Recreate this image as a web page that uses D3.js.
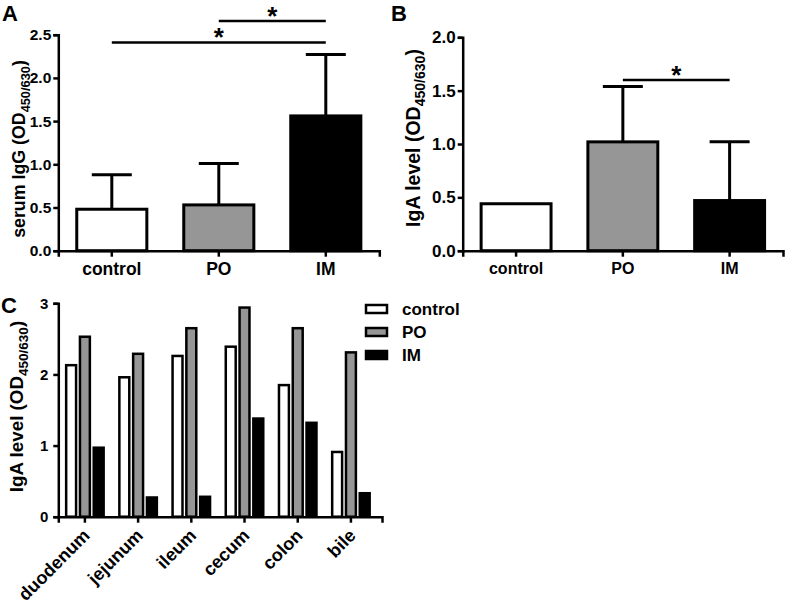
<!DOCTYPE html>
<html lang="en">
<head>
<meta charset="UTF-8">
<title>Serum IgG and IgA levels</title>
<script src="https://d3js.org/d3.v7.min.js"></script>
<style>
  body { margin: 0; background: #fff; }
  svg { display: block; }
</style>
</head>
<body>
<div id="chart"></div>
<script>
// data
const groups = ["control", "PO", "IM"];
const groupFill = ["#ffffff", "#969696", "#000000"];

// panel A: serum IgG, mean and SD
const igGMean = [0.48, 0.53, 1.56];
const igGSD = [0.40, 0.48, 0.71];
const igGTicks = [0, 0.5, 1.0, 1.5, 2.0, 2.5];
const igGSig = [["PO", "IM", 2.66], ["control", "IM", 2.41]];

// panel B: IgA, mean and SD
const igAMean = [0.44, 1.02, 0.47];
const igASD = [0, 0.52, 0.55];
const igATicks = [0, 0.5, 1.0, 1.5, 2.0];
const igASig = [["PO", "IM", 1.60]];

// panel C: IgA per site
const sites = ["duodenum", "jejunum", "ileum", "cecum", "colon", "bile"];
const siteControl = [2.13, 1.96, 2.26, 2.39, 1.85, 0.91];
const sitePO = [2.53, 2.29, 2.65, 2.94, 2.65, 2.31];
const siteIM = [0.97, 0.27, 0.28, 1.38, 1.32, 0.33];
const siteTicks = [0, 1, 2, 3];

const FONT = "'Liberation Sans', Arial, Helvetica, sans-serif";

const svg = d3.select("#chart").append("svg")
    .attr("width", 787)
    .attr("height", 605)
    .attr("font-family", FONT)
    .attr("font-weight", "bold");

function styleAxis(g, fs) {
  g.attr("font-family", FONT).attr("font-size", fs).attr("font-weight", "bold");
  g.select(".domain").attr("stroke-width", 2.5);
  g.selectAll(".tick line").attr("stroke-width", 2.5);
  g.selectAll(".tick text").attr("fill", "#000");
}

function yTitle(x, y, fs, main) {
  const t = svg.append("text")
      .attr("transform", `translate(${x},${y}) rotate(-90)`)
      .attr("text-anchor", "middle")
      .attr("font-size", fs);
  t.append("tspan").text(main + " (OD");
  t.append("tspan").attr("font-size", fs * 0.72).attr("dy", fs * 0.3).text("450/630");
  t.append("tspan").attr("dy", -fs * 0.3).text(")");
}

function letter(x, y, s) {
  svg.append("text").attr("x", x).attr("y", y).attr("font-size", 22).text(s);
}

function barPanel(p) {
  const x = d3.scaleBand().domain(groups).range([p.left, p.right])
      .paddingInner(0.345).paddingOuter(0.1725);
  const y = d3.scaleLinear().domain([0, p.ticks[p.ticks.length - 1]]).range([p.bottom, p.top]);

  const rows = groups.map((g, i) => ({ g, mean: p.mean[i], sd: p.sd[i], fill: groupFill[i] }));
  const cx = d => x(d.g) + x.bandwidth() / 2;

  // error bars (upper only)
  const eb = svg.append("g").attr("stroke", "#000").attr("stroke-width", 3);
  rows.filter(d => d.sd > 0).forEach(d => {
    eb.append("line").attr("x1", cx(d)).attr("x2", cx(d))
        .attr("y1", y(d.mean)).attr("y2", y(d.mean + d.sd));
    eb.append("line").attr("x1", cx(d) - 20).attr("x2", cx(d) + 20)
        .attr("y1", y(d.mean + d.sd)).attr("y2", y(d.mean + d.sd));
  });

  svg.append("g").selectAll("rect").data(rows).join("rect")
      .attr("x", d => x(d.g))
      .attr("width", x.bandwidth())
      .attr("y", d => y(d.mean))
      .attr("height", d => y(0) - y(d.mean))
      .attr("fill", d => d.fill)
      .attr("stroke", "#000")
      .attr("stroke-width", 3);

  const gx = svg.append("g").attr("transform", `translate(0,${p.bottom})`)
      .call(d3.axisBottom(x).tickSizeOuter(0).tickSize(6).tickPadding(6));
  styleAxis(gx, p.xfs);

  const gy = svg.append("g").attr("transform", `translate(${p.left},0)`)
      .call(d3.axisLeft(y).tickValues(p.ticks).tickFormat(d3.format(".1f"))
        .tickSizeOuter(0).tickSize(5).tickPadding(2));
  styleAxis(gy, p.yfs);

  // significance brackets
  p.sig.forEach(([a, b, v]) => {
    const x1 = x(a) + x.bandwidth() / 2, x2 = x(b) + x.bandwidth() / 2;
    svg.append("line").attr("x1", x1).attr("x2", x2).attr("y1", y(v)).attr("y2", y(v))
        .attr("stroke", "#000").attr("stroke-width", 2.5);
    svg.append("text").attr("x", (x1 + x2) / 2).attr("y", y(v) + 4)
        .attr("text-anchor", "middle").attr("font-size", 26).text("*");
  });

  yTitle(p.titleX, p.titleY, p.tfs, p.title);
  letter(p.letterX, p.letterY, p.letter);
}

barPanel({
  left: 58.3, right: 379.3, bottom: 250.7, top: 34.7,
  mean: igGMean, sd: igGSD, ticks: igGTicks, sig: igGSig,
  xfs: 17.5, yfs: 15.5, tfs: 17.8, title: "serum IgG",
  titleX: 25, titleY: 149, letter: "A", letterX: 2, letterY: 21
});

barPanel({
  left: 462.7, right: 783, bottom: 250.7, top: 37.3,
  mean: igAMean, sd: igASD, ticks: igATicks, sig: igASig,
  xfs: 16, yfs: 17, tfs: 19.5, title: "IgA level",
  titleX: 419.5, titleY: 138, letter: "B", letterX: 391, letterY: 21
});

// panel C: grouped bars per site
{
  const left = 58.3, right = 382, bottom = 516.7, top = 303.3;
  const x0 = d3.scaleBand().domain(sites).range([left, right]).paddingOuter(0.042).align(0);
  const x1 = d3.scaleBand().domain(groups).range([0, x0.bandwidth()])
      .paddingInner(0.28).paddingOuter(0.57);
  const y = d3.scaleLinear().domain([0, 3]).range([bottom, top]);
  const series = [siteControl, sitePO, siteIM];

  const rows = [];
  sites.forEach((s, i) => groups.forEach((g, j) => rows.push({ s, g, v: series[j][i], fill: groupFill[j] })));

  svg.append("g").selectAll("rect").data(rows).join("rect")
      .attr("x", d => x0(d.s) + x1(d.g))
      .attr("width", x1.bandwidth())
      .attr("y", d => y(d.v))
      .attr("height", d => y(0) - y(d.v))
      .attr("fill", d => d.fill)
      .attr("stroke", "#000")
      .attr("stroke-width", 2.5);

  const gx = svg.append("g").attr("transform", `translate(0,${bottom})`)
      .call(d3.axisBottom(x0).tickSizeOuter(0).tickSize(6));
  styleAxis(gx, 18);
  gx.selectAll(".tick text")
      .attr("x", 0).attr("y", 0).attr("dy", 0)
      .attr("text-anchor", "end")
      .attr("transform", "translate(6,20) rotate(-45)");

  const gy = svg.append("g").attr("transform", `translate(${left},0)`)
      .call(d3.axisLeft(y).tickValues(siteTicks).tickFormat(d3.format("d"))
        .tickSizeOuter(0).tickSize(5).tickPadding(5));
  styleAxis(gy, 15);

  yTitle(22.5, 406.5, 18.8, "IgA level");
  letter(1, 313, "C");

  // legend
  const lg = svg.append("g").attr("transform", "translate(366,305)");
  const items = lg.selectAll("g").data(groups).join("g")
      .attr("transform", (d, i) => `translate(0,${i * 23})`);
  items.append("rect").attr("width", 21).attr("height", 8)
      .attr("fill", (d, i) => groupFill[i]).attr("stroke", "#000").attr("stroke-width", 2.5);
  items.append("text").attr("x", 36).attr("y", 10).attr("font-size", 17).text(d => d);
}
</script>
</body>
</html>
